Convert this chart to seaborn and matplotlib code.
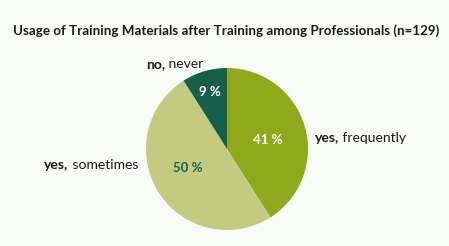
import matplotlib
matplotlib.use("Agg")
import matplotlib.pyplot as plt
import seaborn as sns

categories = ["yes, frequently", "yes, sometimes", "no, never"]
bold_parts = ["yes,", "yes,", "no,"]
rest_parts = [" frequently", " sometimes", " never"]
values = [41, 50, 9]
pct_labels = ["41 %", "50 %", "9 %"]
title = "Usage of Training Materials after Training among Professionals (n=129)"

sns.set_theme(style="white")
plt.rcParams['font.family'] = ['Lato', 'DejaVu Sans']

colors = ["#8fa81c", "#c2cb80", "#175e4b"]
pct_colors = ["white", "#1f5e45", "white"]
bg = "#f8faf5"

fig = plt.figure(figsize=(4.49, 2.46), dpi=100, facecolor=bg)
ax = fig.add_axes([0, 0, 1, 1])
ax.set_facecolor(bg)
W, H = 449, 246
cx, cy, r = 227, H - 149, 81
wedges, _ = ax.pie(values, colors=colors, startangle=90, counterclock=False,
                   center=(cx, cy), radius=r, frame=True,
                   wedgeprops=dict(linewidth=0))
ax.set_xlim(0, W)
ax.set_ylim(0, H)
ax.set_aspect("equal")
ax.axis("off")

# percentage labels
pct_pos = [(268, H - 140), (188, H - 168), (210, H - 92)]
for (x, y), t, c in zip(pct_pos, pct_labels, pct_colors):
    ax.text(x, y, t, color=c, fontsize=9.5, fontweight="bold", ha="center", va="center")

# category labels: bold first word + normal rest
lab_pos = [(315, H - 138, "left"), (138, H - 165, "right"), (176, H - 64, "center")]
for (x, y, ha), b, rst in zip(lab_pos, bold_parts, rest_parts):
    if ha == "left":
        t1 = ax.text(x, y, b, fontsize=10, fontweight="bold", ha="left", va="center", color="#1a1a1a")
        ax.annotate(rst, xy=(1, 0.5), xycoords=t1, va="center", ha="left", fontsize=10, color="#1a1a1a")
    elif ha == "right":
        t2 = ax.text(x, y, rst, fontsize=10, ha="right", va="center", color="#1a1a1a")
        ax.annotate(b, xy=(0, 0.5), xycoords=t2, va="center", ha="right", fontsize=10, fontweight="bold", color="#1a1a1a")
    else:
        t1 = ax.text(x - 30, y, b, fontsize=10, fontweight="bold", ha="left", va="center", color="#1a1a1a")
        ax.annotate(rst, xy=(1, 0.5), xycoords=t1, va="center", ha="left", fontsize=10, color="#1a1a1a")

ax.text(W / 2 + 2, H - 31, title, fontsize=9.6, fontweight="bold", ha="center", va="center", color="#1a1a1a")

fig.savefig("out.png", dpi=100, facecolor=bg)
